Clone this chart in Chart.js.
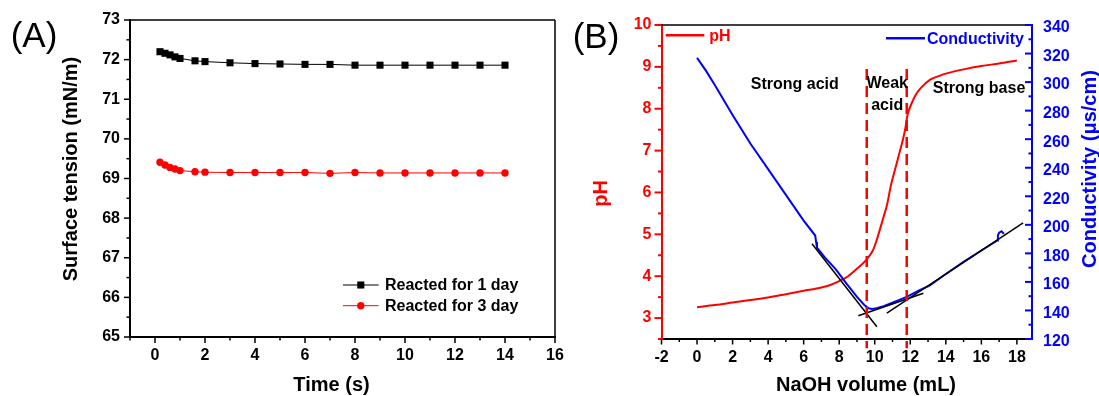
<!DOCTYPE html>
<html><head><meta charset="utf-8">
<script src="https://cdn.jsdelivr.net/npm/chart.js@4.4.1/dist/chart.umd.min.js"></script>
<style>
html,body{margin:0;padding:0;background:#fff;width:1099px;height:396px;overflow:hidden}
#ca{position:absolute;left:0;top:0}
#cb{position:absolute;left:560px;top:0}
</style></head><body>
<canvas id="ca" width="580" height="396"></canvas>
<canvas id="cb" width="539" height="396"></canvas>
<script>
// ---------- Panel A data ----------
const timeA = [0.2, 0.4, 0.6, 0.8, 1.0, 1.6, 2.0, 3, 4, 5, 6, 7, 8, 9, 10, 11, 12, 13, 14];
const day1 = [72.2, 72.16, 72.12, 72.07, 72.03, 71.97, 71.95, 71.92, 71.9, 71.89, 71.88, 71.88, 71.86, 71.86, 71.86, 71.86, 71.86, 71.86, 71.86];
const day3 = [69.41, 69.34, 69.28, 69.24, 69.2, 69.17, 69.16, 69.15, 69.15, 69.15, 69.15, 69.13, 69.15, 69.14, 69.14, 69.14, 69.14, 69.14, 69.14];
const xTicksA = [0, 2, 4, 6, 8, 10, 12, 14, 16];
const yTicksA = [65, 66, 67, 68, 69, 70, 71, 72, 73];
const seriesNamesA = ['Reacted for 1 day', 'Reacted for 3 day'];

// ---------- Panel B data ----------
const volPH = [0, 1, 2, 3, 4, 5, 6, 7, 7.5, 8, 8.5, 9, 9.5, 9.9, 10.1, 10.3, 10.5, 10.7, 10.9, 11.1, 11.3, 11.5, 11.7, 11.85, 12.1, 12.3, 12.6, 13.1, 13.6, 14.1, 15, 16, 17, 18];
const pHValues = [3.26, 3.31, 3.37, 3.43, 3.49, 3.57, 3.65, 3.73, 3.79, 3.88, 4.0, 4.18, 4.38, 4.62, 4.85, 5.13, 5.42, 5.72, 6.15, 6.48, 6.8, 7.12, 7.48, 7.86, 8.15, 8.33, 8.5, 8.69, 8.78, 8.85, 8.94, 9.02, 9.08, 9.15];
const volCond = [0, 0.5, 1, 2, 3, 4, 5, 6, 6.65, 6.7, 6.75, 7.2, 7.8, 8.4, 9.0, 9.4, 9.65, 9.85, 10.1, 10.5, 11, 11.8, 12.5, 13.1, 14, 15, 16, 16.9, 16.93, 17.0, 17.14, 17.27];
const condValues = [317, 308, 298, 277, 257, 239, 221, 203, 192.5, 188, 184, 177, 169, 159, 149.5, 144, 141.5, 141, 141.5, 143, 145.5, 149.5, 154, 157.5, 165.5, 174, 182, 189, 192.5, 194.5, 195.5, 193.7];
const tangentAX = [6.47, 10.12], tangentAY = [186.7, 128.6];
const tangentBX = [9.08, 12.74], tangentBY = [136.3, 152.0];
const tangentCX = [10.68, 18.35], tangentCY = [138.2, 201.4];
const endpointVol = [9.55, 11.8];
const endpointPH = [8.95, 2.28];
const xTicksB = [-2, 0, 2, 4, 6, 8, 10, 12, 14, 16, 18];
const pHTicks = [3, 4, 5, 6, 7, 8, 9, 10];
const condTicks = [120, 140, 160, 180, 200, 220, 240, 260, 280, 300, 320, 340];
const regionLabels = ['Strong acid', 'Weak', 'acid', 'Strong base'];
const regionVol = [5.5, 10.7, 10.7, 15.87];
const regionPH = [8.46, 8.5, 7.97, 8.38];

// ---------- helpers ----------
const FONT = "'Liberation Sans', Arial, Helvetica, sans-serif";
const RED = '#ff0000', BLUE = '#0000ff';
const pts = (xs, ys) => xs.map((x, i) => ({x: x, y: ys[i]}));
const fixTicks = vals => scale => { scale.ticks = vals.map(v => ({value: v})); };
const tickFont = {family: FONT, size: 16, weight: 'bold'};

function makeTicks(specs) {
  return {id: 'tickMarks', afterDraw(chart) {
    const ctx = chart.ctx;
    specs.forEach(s => {
      const sc = chart.scales[s.id];
      const list = sc.ticks.map(t => [t.value, s.major]);
      for (let k = Math.ceil(sc.min / s.minor - 1e-9); k * s.minor <= sc.max + 1e-9; k++) {
        const v = k * s.minor;
        if (!sc.ticks.some(t => Math.abs(t.value - v) < 1e-6)) list.push([v, s.minorLen]);
      }
      ctx.save();
      ctx.strokeStyle = s.color; ctx.lineWidth = s.width;
      list.forEach(([v, len]) => {
        const p = sc.getPixelForValue(v);
        ctx.beginPath();
        if (sc.isHorizontal()) {
          ctx.moveTo(p, sc.top); ctx.lineTo(p, sc.top + (s.dir === 'out' ? len : -len));
        } else {
          const left = sc.position === 'left';
          const x0 = left ? sc.right : sc.left;
          const sign = (left === (s.dir === 'out')) ? -1 : 1;
          ctx.moveTo(x0, p); ctx.lineTo(x0 + sign * len, p);
        }
        ctx.stroke();
      });
      ctx.restore();
    });
  }};
}

function makeTexts(items) {
  return {id: 'texts', afterDraw(chart) {
    const ctx = chart.ctx;
    items.forEach(it => {
      let x = it.x, y = it.y;
      if (it.xs) { x = chart.scales[it.xs].getPixelForValue(it.x); y = chart.scales[it.ys].getPixelForValue(it.y); }
      ctx.save();
      ctx.font = it.font; ctx.fillStyle = it.color || '#000';
      ctx.textAlign = it.align || 'center'; ctx.textBaseline = it.baseline || 'middle';
      ctx.translate(x, y); if (it.rot) ctx.rotate(it.rot);
      ctx.fillText(it.text, 0, 0);
      ctx.restore();
    });
  }};
}

function makeFrame(sides) {
  return {id: 'frame', afterDraw(chart) {
    const a = chart.chartArea, ctx = chart.ctx;
    ctx.save(); ctx.strokeStyle = '#000'; ctx.lineWidth = 1.5;
    ctx.beginPath();
    if (sides.includes('top')) { ctx.moveTo(a.left, a.top); ctx.lineTo(a.right, a.top); }
    if (sides.includes('right')) { ctx.moveTo(a.right, a.top); ctx.lineTo(a.right, a.bottom); }
    ctx.stroke(); ctx.restore();
  }};
}

function makeLegend(items) {
  return {id: 'legendBox', afterDraw(chart) {
    const ctx = chart.ctx;
    items.forEach(it => {
      const ds = chart.data.datasets[it.ds];
      ctx.save();
      ctx.strokeStyle = ds.borderColor; ctx.lineWidth = it.lw || ds.borderWidth;
      ctx.beginPath(); ctx.moveTo(it.x0, it.y); ctx.lineTo(it.x1, it.y); ctx.stroke();
      if (it.marker) {
        const mx = (it.x0 + it.x1) / 2;
        ctx.fillStyle = ds.backgroundColor;
        if (ds.pointStyle === 'rect') {
          const h = ds.pointRadius * Math.SQRT1_2;
          ctx.fillRect(mx - h, it.y - h, 2 * h, 2 * h);
        } else {
          ctx.beginPath(); ctx.arc(mx, it.y, ds.pointRadius, 0, Math.PI * 2); ctx.fill();
        }
      }
      ctx.font = it.font; ctx.fillStyle = it.color; ctx.textAlign = 'left'; ctx.textBaseline = 'middle';
      ctx.fillText(ds.label, it.tx, it.y + 1);
      ctx.restore();
    });
  }};
}

// ---------- Chart A ----------
new Chart(document.getElementById('ca'), {
  type: 'line',
  data: {datasets: [
    {label: seriesNamesA[0], data: pts(timeA, day1), borderColor: '#000', backgroundColor: '#000', borderWidth: 1,
     pointStyle: 'rect', pointRadius: 5, pointBorderWidth: 0, pointBackgroundColor: '#000'},
    {label: seriesNamesA[1], data: pts(timeA, day3), borderColor: RED, backgroundColor: RED, borderWidth: 1,
     pointStyle: 'circle', pointRadius: 3.7, pointBorderWidth: 0, pointBackgroundColor: RED}
  ]},
  options: {
    responsive: false, animation: false, events: [], devicePixelRatio: 1,
    layout: {padding: {left: 0, top: 20, right: 25, bottom: 0}},
    plugins: {legend: {display: false}, tooltip: {enabled: false}},
    scales: {
      x: {type: 'linear', min: -1, max: 16, afterBuildTicks: fixTicks(xTicksA), afterFit: s => { s.height = 59; },
          grid: {display: false, drawTicks: false}, border: {display: true, color: '#000', width: 2},
          ticks: {color: '#000', font: tickFont, padding: 9, maxRotation: 0, autoSkip: false}},
      y: {type: 'linear', min: 65, max: 73, afterBuildTicks: fixTicks(yTicksA), afterFit: s => { s.width = 130; },
          grid: {display: false, drawTicks: false}, border: {display: true, color: '#000', width: 2},
          ticks: {color: '#000', font: tickFont, padding: 10, autoSkip: false}}
    }
  },
  plugins: [
    makeFrame(['top', 'right']),
    makeTicks([
      {id: 'x', minor: 1, major: 6, minorLen: 3.5, dir: 'out', color: '#000', width: 1.5},
      {id: 'y', minor: 0.5, major: 6, minorLen: 3.5, dir: 'out', color: '#000', width: 1.5}
    ]),
    makeTexts([
      {text: '(A)', x: 34, y: 37, font: '35px ' + FONT},
      {text: 'Surface tension (mN/m)', x: 71, y: 169, rot: -Math.PI / 2, font: 'bold 20px ' + FONT},
      {text: 'Time (s)', x: 331.5, y: 385, font: 'bold 20px ' + FONT}
    ]),
    makeLegend([
      {ds: 0, x0: 343, x1: 378.6, y: 285, tx: 385, marker: true, font: 'bold 16px ' + FONT, color: '#000'},
      {ds: 1, x0: 343, x1: 378.6, y: 305.7, tx: 385, marker: true, font: 'bold 16px ' + FONT, color: '#000'}
    ])
  ]
});

// ---------- Chart B ----------
const lineDs = (label, xs, ys, axis, color, width, extra) => Object.assign({
  label: label, data: pts(xs, ys), yAxisID: axis, borderColor: color, backgroundColor: color,
  borderWidth: width, pointRadius: 0, tension: 0, fill: false
}, extra || {});

new Chart(document.getElementById('cb'), {
  type: 'line',
  data: {datasets: [
    lineDs('pH', volPH, pHValues, 'y', RED, 2, {cubicInterpolationMode: 'monotone'}),
    lineDs('Conductivity', volCond, condValues, 'y2', BLUE, 2),
    lineDs('end1', [endpointVol[0], endpointVol[0]], endpointPH, 'y', RED, 2.5, {borderDash: [11, 6], clip: false}),
    lineDs('end2', [endpointVol[1], endpointVol[1]], endpointPH, 'y', RED, 2.5, {borderDash: [11, 6], clip: false}),
    lineDs('t1', tangentAX, tangentAY, 'y2', '#000', 1.5),
    lineDs('t2', tangentBX, tangentBY, 'y2', '#000', 1.5),
    lineDs('t3', tangentCX, tangentCY, 'y2', '#000', 1.5)
  ].map((d, i) => Object.assign(d, {order: [6, 5, 0, 1, 2, 3, 4][i]}))},
  options: {
    responsive: false, animation: false, events: [], devicePixelRatio: 1,
    layout: {padding: {left: 0, top: 25, right: 0, bottom: 0}},
    plugins: {legend: {display: false}, tooltip: {enabled: false}},
    scales: {
      x: {type: 'linear', min: -2, max: 18.85, afterBuildTicks: fixTicks(xTicksB), afterFit: s => { s.height = 57; },
          grid: {display: false, drawTicks: false}, border: {display: true, color: '#000', width: 2},
          ticks: {color: '#000', font: tickFont, padding: 9, maxRotation: 0, autoSkip: false}},
      y: {type: 'linear', position: 'left', min: 2.5, max: 10, afterBuildTicks: fixTicks(pHTicks), afterFit: s => { s.width = 101.5; },
          grid: {display: false, drawTicks: false}, border: {display: true, color: RED, width: 2},
          ticks: {color: RED, font: tickFont, padding: 10, autoSkip: false}},
      y2: {type: 'linear', position: 'right', min: 120, max: 340, afterBuildTicks: fixTicks(condTicks), afterFit: s => { s.width = 67; },
          grid: {display: false, drawTicks: false}, border: {display: true, color: BLUE, width: 2},
          ticks: {color: BLUE, font: tickFont, padding: 11, labelOffset: 3, autoSkip: false}}
    }
  },
  plugins: [
    makeFrame(['top']),
    makeTicks([
      {id: 'x', minor: 1, major: 5.5, minorLen: 3, dir: 'out', color: '#000', width: 1.5},
      {id: 'y', minor: 0.5, major: 7, minorLen: 3.5, dir: 'out', color: RED, width: 2},
      {id: 'y2', minor: 10, major: 7, minorLen: 3.5, dir: 'in', color: BLUE, width: 2}
    ]),
    makeTexts([
      {text: '(B)', x: 36, y: 38, font: '35px ' + FONT},
      {text: 'pH', x: 41, y: 193.5, rot: -Math.PI / 2, font: 'bold 20px ' + FONT, color: RED},
      {text: 'Conductivity (\u03bcs/cm)', x: 530, y: 169, rot: -Math.PI / 2, font: 'bold 20px ' + FONT, color: BLUE},
      {text: 'NaOH volume (mL)', x: 306, y: 385, font: 'bold 20px ' + FONT},
      ...regionLabels.map((t, i) => ({text: t, x: regionVol[i], y: regionPH[i], xs: 'x', ys: 'y', baseline: 'alphabetic', font: 'bold 16px ' + FONT}))
    ]),
    makeLegend([
      {ds: 0, x0: 105.7, x1: 144.3, y: 35.3, tx: 149.3, font: 'bold 16px ' + FONT, color: RED, lw: 2.5},
      {ds: 1, x0: 326, x1: 365, y: 38.3, tx: 367, font: 'bold 16px ' + FONT, color: BLUE, lw: 2.5}
    ])
  ]
});
</script>
</body></html>
